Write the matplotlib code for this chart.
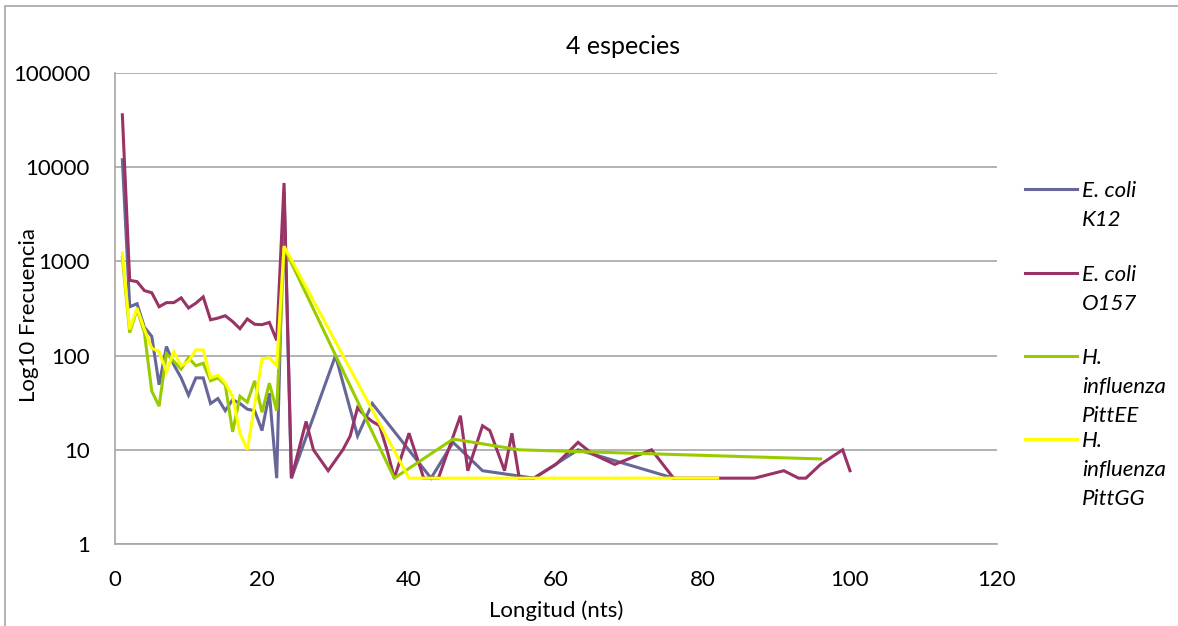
import numpy as np
import matplotlib
matplotlib.use('Agg')
import matplotlib.pyplot as plt
from matplotlib.lines import Line2D
from matplotlib.patches import Rectangle

plt.rcParams['font.family'] = ['Lato', 'DejaVu Sans']

# ── data (longitud in nts, frecuencia) ───────────────────────────────────────
k12_x = list(range(1, 25)) + [30, 33, 35, 43, 46, 50, 57, 63, 76]
k12_y = [12000, 330, 355, 200, 160, 49, 125, 80, 58, 38, 58, 58, 31, 35, 26,
         34, 31, 27, 26, 16, 40, 5, 5500, 5,
         100, 14, 31, 5, 12, 6, 5, 10, 5]

o157_x = list(range(1, 25)) + [26, 27, 29, 31, 32, 33, 34, 35, 36, 37, 38, 40,
                               42, 44, 47, 48, 50, 51, 53, 54, 55, 57, 60, 63,
                               65, 68, 73, 76, 87, 91, 93, 94, 96, 99, 100]
o157_y = [36000, 630, 610, 490, 465, 330, 365, 365, 410, 320, 360, 420, 240,
          250, 265, 230, 193, 245, 215, 213, 225, 145, 6800, 5,
          20, 10, 6, 10, 14, 28, 23, 20, 18, 10, 5, 15, 5, 5, 23, 6, 18, 16,
          6, 15, 5, 5, 7, 12, 9, 7, 10, 5, 5, 6, 5, 5, 7, 10, 6]

pittee_x = list(range(1, 24)) + [38, 46, 55, 96]
pittee_y = [1100, 175, 310, 175, 42, 29, 105, 87, 72, 95, 78, 83, 54, 58, 49,
            15.5, 37, 32, 54, 25, 51, 26, 1400, 5, 13, 10, 8]

pittgg_x = list(range(1, 24)) + [40, 82]
pittgg_y = [1230, 190, 320, 190, 120, 110, 68, 110, 78, 87, 115, 115, 58, 62,
            51, 37, 15, 10, 30, 92, 95, 78, 1450, 5, 5]

labels = [['E. coli', 'K12'], ['E. coli', 'O157'],
          ['H.', 'influenza', 'PittEE'], ['H.', 'influenza', 'PittGG']]
colors = ['#666699', '#993366', '#99CC00', '#FFFF00']

# ── figure ────────────────────────────────────────────────────────────────────
W, H = 1178, 626
fig = plt.figure(figsize=(W / 100, H / 100), dpi=100)
ax = fig.add_axes([115 / W, 1 - 544 / H, (997 - 115) / W, (544 - 73) / H])

series = [(k12_x, k12_y), (o157_x, o157_y), (pittee_x, pittee_y),
          (pittgg_x, pittgg_y)]
for (xs, ys), c in zip(series, colors):
    ax.plot(xs, ys, color=c, lw=2.2, solid_joinstyle='miter', zorder=3)

ax.set_yscale('log')
ax.set_ylim(1, 100000)
ax.set_xlim(0, 120)
ax.set_xticks(range(0, 121, 20))
ax.set_yticks([1, 10, 100, 1000, 10000, 100000])
ax.set_yticklabels(['1', '10', '100', '1000', '10000', '100000'])
ax.minorticks_off()
ax.tick_params(length=0, labelsize=16, colors='black')
ax.tick_params(axis='y', pad=18)
ax.tick_params(axis='x', pad=19)
ax.grid(axis='y', color='#a6a6a6', lw=1.2)
ax.set_axisbelow(True)
for s in ['top', 'right']:
    ax.spines[s].set_visible(False)
for s in ['left', 'bottom']:
    ax.spines[s].set_color('#a6a6a6')
    ax.spines[s].set_linewidth(1.2)

# chart frame (Excel chart area border)
fig.patches.append(Rectangle((5 / W, -0.1), 2, 1.1 - 6 / H,
                             transform=fig.transFigure, fill=False,
                             ec='#a6a6a6', lw=1.2))

fig.text(623 / W, 1 - 47 / H, '4 especies', ha='center', va='center', fontsize=18)
fig.text(556 / W, 1 - 617 / H, 'Longitud (nts)', ha='center', va='baseline', fontsize=16)
fig.text(29 / W, 1 - 315 / H, 'Log10 Frecuencia', ha='center', va='center',
         rotation=90, fontsize=16)

# legend drawn by hand so the line sits on the first text row
for i, (lab, c) in enumerate(zip(labels, colors)):
    ly = [189, 273, 356, 439][i]
    fig.lines.append(Line2D([1025 / W, 1077 / W], [1 - ly / H, 1 - ly / H],
                            transform=fig.transFigure, color=c, lw=2.2))
    for j, t in enumerate(lab):
        fig.text(1082 / W, 1 - (ly + 8 + 29 * j) / H, t, ha='left',
                 va='baseline', fontsize=16, style='italic')

fig.savefig('out.png', dpi=100)
